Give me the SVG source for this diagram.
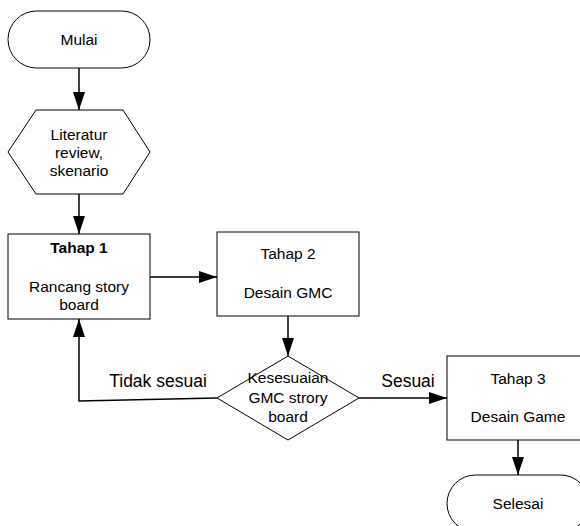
<svg xmlns="http://www.w3.org/2000/svg" width="580" height="526" viewBox="0 0 580 526">
<defs>
<marker id="ah" markerWidth="18" markerHeight="12" refX="18" refY="6" orient="auto" markerUnits="userSpaceOnUse">
<path d="M0,0 L18,6 L0,12 Z" fill="#000"/>
</marker>
<style>
.s{fill:#fff;stroke:#000;stroke-width:1}
.t{font-family:"Liberation Sans",Arial,sans-serif;font-size:15.5px;fill:#000;text-anchor:middle}
.b{font-weight:bold}
.l{font-family:"Liberation Sans",Arial,sans-serif;font-size:17.5px;fill:#000;text-anchor:middle}
.c{fill:none;stroke:#000;stroke-width:1.5}
</style>
</defs>
<rect width="580" height="526" fill="#fff"/>
<g id="connectors">
<line class="c" x1="79" y1="68" x2="79" y2="110" marker-end="url(#ah)"/>
<line class="c" x1="79" y1="194" x2="79" y2="234" marker-end="url(#ah)"/>
<line class="c" x1="150" y1="277" x2="217" y2="277" marker-end="url(#ah)"/>
<line class="c" x1="288" y1="316" x2="288" y2="356" marker-end="url(#ah)"/>
<polyline class="c" points="217,398 79,401 79,319" marker-end="url(#ah)"/>
<line class="c" x1="359" y1="398" x2="447" y2="398" marker-end="url(#ah)"/>
<line class="c" x1="518" y1="440" x2="518" y2="475" marker-end="url(#ah)"/>
<text class="l" x="158" y="387">Tidak sesuai</text>
<text class="l" x="408" y="387">Sesuai</text>
</g>
<g id="mulai">
<rect class="s" x="8" y="11" width="142" height="57" rx="28.5" ry="28.5"/>
<text class="t" x="79" y="45">Mulai</text>
</g>
<g id="literatur">
<polygon class="s" points="36,110 123,110 150,152 123,194 36,194 8,152"/>
<text class="t" x="79" y="140">Literatur</text>
<text class="t" x="79" y="158">review,</text>
<text class="t" x="79" y="176">skenario</text>
</g>
<g id="tahap1">
<rect class="s" x="8" y="234" width="142" height="85"/>
<text class="t b" x="79" y="253">Tahap 1</text>
<text class="t" x="79" y="292">Rancang story</text>
<text class="t" x="79" y="310">board</text>
</g>
<g id="tahap2">
<rect class="s" x="217" y="232" width="142" height="84"/>
<text class="t" x="288" y="259">Tahap 2</text>
<text class="t" x="288" y="298">Desain GMC</text>
</g>
<g id="kesesuaian">
<polygon class="s" points="288,356 359,398 288,440 217,398"/>
<text class="t" x="288" y="383">Kesesuaian</text>
<text class="t" x="288" y="403">GMC strory</text>
<text class="t" x="288" y="422">board</text>
</g>
<g id="tahap3">
<rect class="s" x="447" y="356" width="142" height="84"/>
<text class="t" x="518" y="384">Tahap 3</text>
<text class="t" x="518" y="422">Desain Game</text>
</g>
<g id="selesai">
<rect class="s" x="447" y="475" width="142" height="57" rx="28.5" ry="28.5"/>
<text class="t" x="518" y="509">Selesai</text>
</g>
</svg>
